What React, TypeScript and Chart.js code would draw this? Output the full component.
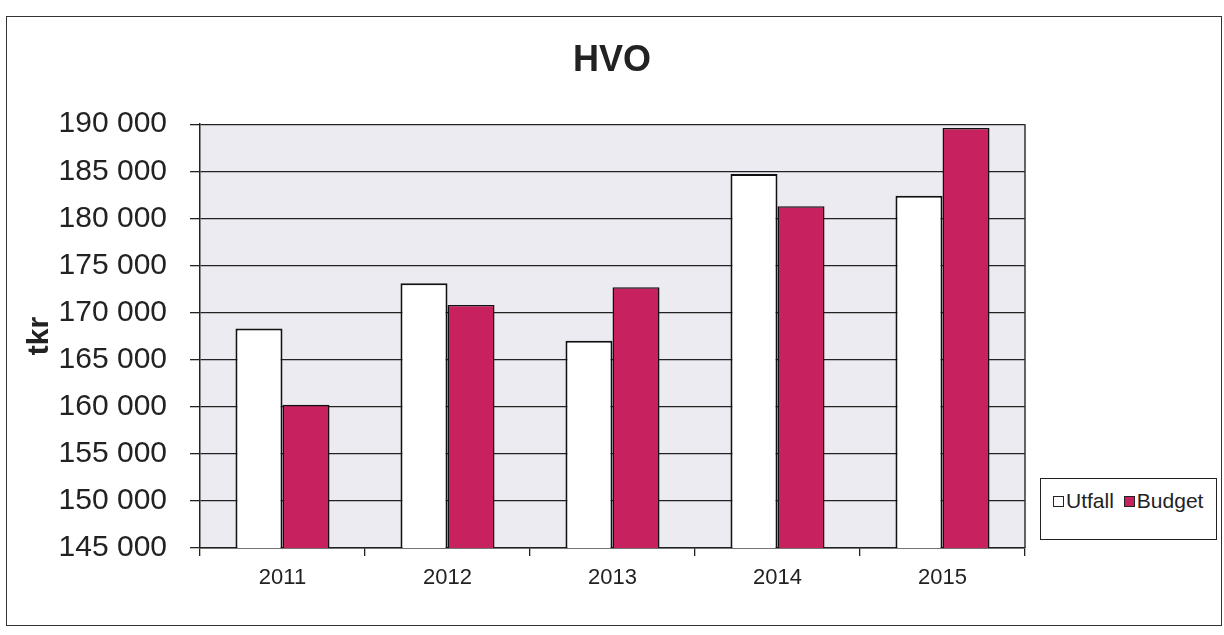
import React, { useEffect, useRef } from "react";
import { Chart, registerables } from "chart.js";

Chart.register(...registerables);

const categories = ["2011", "2012", "2013", "2014", "2015"];
const utfall = [168300, 173100, 167000, 184700, 182400];
const budget = [160200, 170800, 172700, 181300, 189600];
const yMin = 145000;
const yMax = 190000;
const yStep = 5000;
const titleText = "HVO";
const yTitle = "tkr";
const seriesNames = ["Utfall", "Budget"];

const FONT = "'Liberation Sans', Arial, sans-serif";
const BUDGET_COLOR = "#c7215f";
const PLOT_BG = "#ecebf2";

const formatTick = (v: number) =>
  String(Math.round(v)).replace(/\B(?=(\d{3})+(?!\d))/g, " ");

export default function App() {
  const ref = useRef<HTMLCanvasElement | null>(null);

  useEffect(() => {
    if (!ref.current) return;
    const plotPlugin = {
      id: "plotBg",
      beforeDraw(chart: any) {
        const { ctx, chartArea } = chart;
        ctx.save();
        ctx.fillStyle = PLOT_BG;
        ctx.fillRect(chartArea.left, chartArea.top, chartArea.right - chartArea.left, chartArea.bottom - chartArea.top);
        ctx.restore();
      },
      beforeDatasetsDraw(chart: any) {
        const { ctx, chartArea } = chart;
        ctx.save();
        ctx.strokeStyle = "#333";
        ctx.lineWidth = 1.5;
        ctx.beginPath();
        ctx.moveTo(chartArea.right, chartArea.top);
        ctx.lineTo(chartArea.right, chartArea.bottom);
        ctx.stroke();
        ctx.restore();
      },
    };

    const chart = new Chart(ref.current, {
      type: "bar",
      data: {
        labels: categories,
        datasets: [
          {
            label: seriesNames[0],
            data: utfall,
            backgroundColor: "#ffffff",
            borderColor: "#111",
            borderWidth: 2,
            categoryPercentage: 0.57,
            barPercentage: 1,
          },
          {
            label: seriesNames[1],
            data: budget,
            backgroundColor: BUDGET_COLOR,
            borderColor: "#111",
            borderWidth: 1.5,
            categoryPercentage: 0.57,
            barPercentage: 1,
          },
        ],
      },
      options: {
        animation: false,
        responsive: false,
        maintainAspectRatio: false,
        layout: { padding: 0 },
        plugins: {
          legend: { display: false },
          tooltip: { enabled: false },
          title: {
            display: true,
            text: titleText,
            color: "#222",
            font: { family: FONT, size: 36, weight: "bold" },
            padding: { top: 21, bottom: 42 },
          },
        },
        scales: {
          x: {
            grid: {
              display: true,
              drawOnChartArea: false,
              drawTicks: true,
              tickLength: 8,
              color: "#222",
              lineWidth: 1.3,
            },
            border: { display: true, color: "#222", width: 1.5 },
            ticks: {
              color: "#222",
              font: { family: FONT, size: 22 },
              padding: 9,
            },
            afterFit(scale: any) {
              scale.height = 76;
            },
          },
          y: {
            min: yMin,
            max: yMax,
            grid: {
              color: "#222",
              lineWidth: 1.3,
              drawTicks: true,
              tickLength: 10,
            },
            border: { display: true, color: "#222", width: 1.5 },
            ticks: {
              stepSize: yStep,
              color: "#222",
              font: { family: FONT, size: 30 },
              padding: 23,
              callback: (v: any) => formatTick(Number(v)),
            },
            title: {
              display: true,
              text: yTitle,
              color: "#222",
              font: { family: FONT, size: 30, weight: "bold" },
              padding: { top: 14, bottom: 0 },
            },
            afterFit(scale: any) {
              scale.width = 192;
            },
          },
          legendSpace: {
            type: "linear",
            position: "right",
            display: true,
            grid: { display: false, drawOnChartArea: false, drawTicks: false },
            border: { display: false },
            ticks: { display: false },
            afterFit(scale: any) {
              scale.width = 191;
            },
          },
        },
      },
      plugins: [plotPlugin],
    } as any);

    return () => chart.destroy();
  }, []);

  const legendItem = (name: string, color: string) => (
    <div style={{ display: "flex", alignItems: "center", marginRight: 10 }}>
      <span
        style={{
          display: "inline-block",
          width: 11,
          height: 11,
          background: color,
          border: "1.5px solid #222",
          boxSizing: "border-box",
          marginRight: 2,
        }}
      />
      <span>{name}</span>
    </div>
  );

  return (
    <div
      style={{
        position: "absolute",
        left: 0,
        top: 0,
        width: 1224,
        height: 635,
        background: "#fff",
        overflow: "hidden",
      }}
    >
      <div
        style={{
          position: "absolute",
          left: 6,
          top: 16,
          width: 1216,
          height: 610,
          border: "1.5px solid #333",
          boxSizing: "border-box",
        }}
      />
      <canvas
        ref={ref}
        width={1208}
        height={606}
        style={{ position: "absolute", left: 8, top: 18, width: 1208, height: 606 }}
      />
      <div
        style={{
          position: "absolute",
          left: 1040,
          top: 478,
          width: 177,
          height: 62,
          border: "1.5px solid #222",
          boxSizing: "border-box",
          background: "#fff",
          display: "flex",
          alignItems: "flex-start",
          paddingTop: 10,
          paddingLeft: 12,
          fontFamily: FONT,
          fontSize: 21,
          color: "#222",
          whiteSpace: "nowrap",
        }}
      >
        {legendItem(seriesNames[0], "#fff")}
        {legendItem(seriesNames[1], BUDGET_COLOR)}
      </div>
    </div>
  );
}
